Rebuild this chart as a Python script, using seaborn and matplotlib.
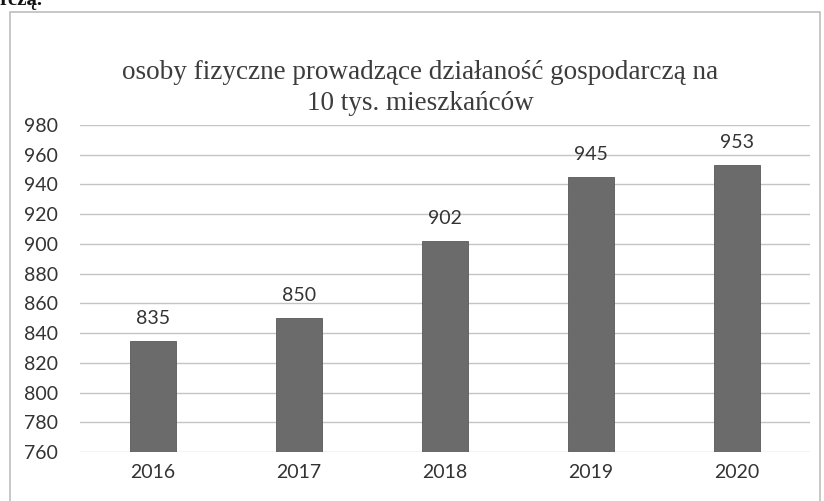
import matplotlib
matplotlib.use("Agg")
import matplotlib.pyplot as plt
import seaborn as sns
import pandas as pd
from matplotlib.patches import Rectangle

years = ["2016", "2017", "2018", "2019", "2020"]
values = [835, 850, 902, 945, 953]
yticks = [760, 780, 800, 820, 840, 860, 880, 900, 920, 940, 960, 980]
title = "osoby fizyczne prowadzące działaność gospodarczą na\n10 tys. mieszkańców"

sns.set_theme(style="white")
plt.rcParams["font.family"] = ["Lato", "DejaVu Sans"]

df = pd.DataFrame({"rok": years, "wartosc": values})

fig = plt.figure(figsize=(8.24, 5.01), dpi=100)
W, H = 824, 501
ax = fig.add_axes([80 / W, 1 - 452 / H, 730 / W, (452 - 125) / H])

sns.barplot(data=df, x="rok", y="wartosc", color="#6b6b6b", width=0.31,
            saturation=1, ax=ax, zorder=3, edgecolor="#585858", linewidth=0.6)

ax.set_ylim(760, 980)
ax.set_yticks(yticks)
ax.set_xlim(-0.5, 4.5)
ax.yaxis.grid(True, color="#c4c4c4", linewidth=1.0, zorder=0)
ax.set_axisbelow(True)
for s in ax.spines.values():
    s.set_visible(False)
ax.set_xlabel("")
ax.set_ylabel("")
ax.tick_params(axis="both", length=0, labelsize=14, labelcolor="#333333")
ax.tick_params(axis="y", pad=16)
ax.tick_params(axis="x", pad=9)

for i, v in enumerate(values):
    ax.annotate(str(v), (i, v), xytext=(0, 10), textcoords="offset points",
                ha="center", va="bottom", fontsize=14, color="#333333")

fig.text(420 / W, 1 - 88 / H, title, ha="center", va="center",
         fontsize=19.5, family=["Liberation Serif"], color="#3c3c3c",
         linespacing=1.28)

fig.patches.append(Rectangle((10 / W, -0.05), 810 / W, 1.05 - 12 / H,
                             transform=fig.transFigure, fill=False,
                             edgecolor="#bdbdbd", linewidth=1.2))

fig.text(0.0, 1 - 5 / H, "rczą.", ha="left", va="baseline", fontsize=15,
         family=["Liberation Serif"], weight="bold", color="#111111")

fig.savefig("out.png", dpi=100)
